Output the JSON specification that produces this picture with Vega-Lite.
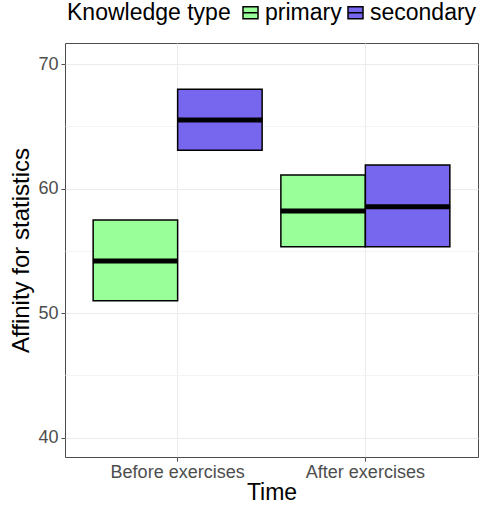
{
  "$schema": "https://vega.github.io/schema/vega-lite/v6.json",
  "width": 413,
  "height": 414,
  "autosize": {"type": "none"},
  "padding": {"left": 65, "top": 43, "right": 5, "bottom": 48},
  "background": "white",
  "config": {
    "font": "Liberation Sans",
    "view": {"stroke": "#4D4D4D", "strokeWidth": 1}
  },
  "data": {
    "values": [
      {"time": "Before exercises", "type": "primary", "low": 50.99, "high": 57.47, "mean": 54.18},
      {"time": "Before exercises", "type": "secondary", "low": 63.07, "high": 67.97, "mean": 65.5},
      {"time": "After exercises", "type": "primary", "low": 55.33, "high": 61.08, "mean": 58.19},
      {"time": "After exercises", "type": "secondary", "low": 55.33, "high": 61.89, "mean": 58.54}
    ]
  },
  "encoding": {
    "x": {
      "field": "time",
      "type": "nominal",
      "sort": ["Before exercises", "After exercises"],
      "scale": {"paddingInner": 0, "paddingOuter": 0.1},
      "axis": {
        "title": "Time",
        "titleFontSize": 23,
        "titleFontWeight": "normal",
        "titleColor": "black",
        "titlePadding": 0,
        "labelFontSize": 18,
        "labelColor": "#4D4D4D",
        "labelAngle": 0,
        "labelPadding": 2,
        "bandPosition": 0.5,
        "domain": false,
        "tickColor": "#4D4D4D",
        "tickSize": 4,
        "grid": true,
        "gridColor": "#EBEBEB"
      }
    },
    "xOffset": {
      "field": "type",
      "type": "nominal",
      "scale": {"paddingInner": 0, "paddingOuter": 0.111}
    }
  },
  "layer": [
    {
      "mark": {"type": "bar", "stroke": "black", "strokeWidth": 1.5, "opacity": 1},
      "encoding": {
        "y": {
          "field": "low",
          "type": "quantitative",
          "scale": {"domain": [38.44, 71.69], "nice": false, "zero": false},
          "axis": {
            "title": "Affinity for statistics",
            "titleFontSize": 24,
            "titleFontWeight": "normal",
            "titleColor": "black",
            "titlePadding": 4,
            "labelFontSize": 18,
            "labelColor": "#4D4D4D",
            "labelPadding": 3,
            "values": [40, 45, 50, 55, 60, 65, 70],
            "labelExpr": "datum.value % 10 === 0 ? datum.label : ''",
            "domain": false,
            "tickColor": {"condition": {"test": "datum.value % 10 === 0", "value": "#4D4D4D"}, "value": "transparent"},
            "tickSize": 4,
            "grid": true,
            "gridColor": {"condition": {"test": "datum.value % 10 === 0", "value": "#EBEBEB"}, "value": "#F4F4F4"}
          }
        },
        "y2": {"field": "high"},
        "fill": {
          "field": "type",
          "type": "nominal",
          "scale": {"domain": ["primary", "secondary"], "range": ["#99FF99", "#7766EE"]},
          "legend": {
            "title": "Knowledge type",
            "orient": "none",
            "legendX": 2,
            "legendY": -42,
            "direction": "horizontal",
            "titleOrient": "left",
            "titleFontSize": 23,
            "titleFontWeight": "normal",
            "titleColor": "black",
            "titlePadding": 8,
            "labelFontSize": 23,
            "labelColor": "black",
            "labelOffset": 3,
            "columnPadding": 2,
            "symbolType": "M-1,-0.8H1V0.8H-1Z M-1,0H1",
            "symbolSize": 225,
            "symbolStrokeColor": "black",
            "symbolStrokeWidth": 1.5,
            "symbolOpacity": 1
          }
        }
      }
    },
    {
      "mark": {"type": "tick", "color": "black", "thickness": 5, "size": 85, "opacity": 1},
      "encoding": {
        "y": {"field": "mean", "type": "quantitative"}
      }
    }
  ]
}
